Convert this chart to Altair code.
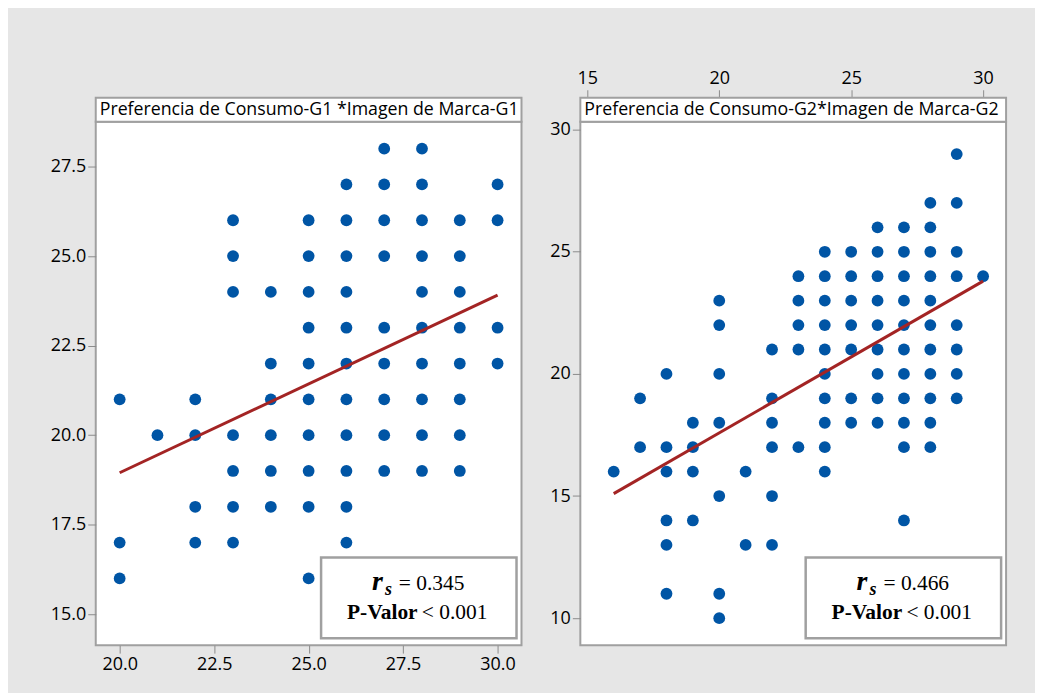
import altair as alt
import pandas as pd

# ---------------- data ----------------
g1_x = ([20] * 3 + [21] + [22] * 4 + [23] * 7 + [24] * 6 + [25] * 10 + [26] * 11
        + [27] * 9 + [28] * 10 + [29] * 8 + [30] * 4)
g1_y = ([21, 17, 16]
        + [20]
        + [21, 20, 18, 17]
        + [26, 25, 24, 20, 19, 18, 17]
        + [24, 22, 21, 20, 19, 18]
        + [26, 25, 24, 23, 22, 21, 20, 19, 18, 16]
        + [27, 26, 25, 24, 23, 22, 21, 20, 19, 18, 17]
        + [28, 27, 26, 25, 23, 22, 21, 20, 19]
        + [28, 27, 26, 25, 24, 23, 22, 21, 20, 19]
        + [26, 25, 24, 23, 22, 21, 20, 19]
        + [27, 26, 23, 22])

g2_x = ([16] + [17] * 2 + [18] * 6 + [19] * 4 + [20] * 7 + [21] * 2 + [22] * 6
        + [23] * 5 + [24] * 10 + [25] * 7 + [26] * 9 + [27] * 11 + [28] * 11
        + [29] * 8 + [30])
g2_y = ([16]
        + [19, 17]
        + [20, 17, 16, 14, 13, 11]
        + [18, 17, 16, 14]
        + [23, 22, 20, 18, 15, 11, 10]
        + [16, 13]
        + [21, 19, 18, 17, 15, 13]
        + [24, 23, 22, 21, 17]
        + [25, 24, 23, 22, 21, 20, 19, 18, 17, 16]
        + [25, 24, 23, 22, 21, 19, 18]
        + [26, 25, 24, 23, 22, 21, 20, 19, 18]
        + [26, 25, 24, 23, 22, 21, 20, 19, 18, 17, 14]
        + [27, 26, 25, 24, 23, 22, 21, 20, 19, 18, 17]
        + [29, 27, 25, 24, 22, 21, 20, 19]
        + [24])

# fitted lines (end points)
g1_fit_x = [20, 30]
g1_fit_y = [18.95, 23.91]
g2_fit_x = [16, 30]
g2_fit_y = [15.1, 23.8]

titles = ["Preferencia de Consumo-G1 *Imagen de Marca-G1",
          "Preferencia de Consumo-G2*Imagen de Marca-G2"]
rs_values = ["= 0.345", "= 0.466"]
p_values = ["< 0.001", "< 0.001"]

g1_xticks = [20.0, 22.5, 25.0, 27.5, 30.0]
g1_yticks = [15.0, 17.5, 20.0, 22.5, 25.0, 27.5]
g2_xticks = [15, 20, 25, 30]
g2_yticks = [10, 15, 20, 25, 30]

# ---------------- styling ----------------
BLUE = "#0055a5"
RED = "#a32424"
FRAME = "#a0a0a0"
BG = "#e6e6e6"
SANS = "Open Sans"
SERIF = "Liberation Serif"
W, H, STRIP = 427, 525, 24

one = pd.DataFrame({"k": [0]})


def panel(xs, ys, fx, fy, xdom, ydom, xticks, yticks, fmt, title, rs, pv, top):
    pts = pd.DataFrame({"x": xs, "y": ys})
    fit = pd.DataFrame({"x": fx, "y": fy})
    xsc = alt.Scale(domain=xdom, nice=False, zero=False)
    ysc = alt.Scale(domain=ydom, nice=False, zero=False)
    xaxis = alt.Axis(values=xticks, format=fmt, title=None,
                     orient="top" if top else "bottom",
                     offset=STRIP if top else 0)
    yaxis = alt.Axis(values=yticks, format=fmt, title=None)

    dots = alt.Chart(pts).mark_circle(size=140, color=BLUE, opacity=1).encode(
        x=alt.X("x:Q", scale=xsc, axis=xaxis),
        y=alt.Y("y:Q", scale=ysc, axis=yaxis),
    )
    line = alt.Chart(fit).mark_line(color=RED, strokeWidth=3).encode(
        x="x:Q", y="y:Q")

    strip = alt.Chart(one).mark_rect(fill="white", stroke=FRAME, strokeWidth=2).encode(
        x=alt.value(0), x2=alt.value(W), y=alt.value(-STRIP), y2=alt.value(0))
    strip_t = alt.Chart(one).mark_text(
        text=title, align="left", baseline="middle", font=SANS, fontSize=17.8,
        color="black").encode(x=alt.value(4), y=alt.value(-STRIP / 2))

    box = alt.Chart(one).mark_rect(fill="white", stroke=FRAME, strokeWidth=2.5).encode(
        x=alt.value(226), x2=alt.value(422), y=alt.value(437), y2=alt.value(518))
    t_r = alt.Chart(one).mark_text(
        text="r", align="left", baseline="alphabetic", font=SERIF, fontSize=28,
        fontWeight="bold", fontStyle="italic", color="black").encode(
        x=alt.value(277), y=alt.value(470))
    t_s = alt.Chart(one).mark_text(
        text="s", align="left", baseline="alphabetic", font=SERIF, fontSize=18,
        fontWeight="bold", fontStyle="italic", color="black").encode(
        x=alt.value(290), y=alt.value(475))
    t_eq = alt.Chart(one).mark_text(
        text=rs, align="left", baseline="alphabetic", font=SERIF, fontSize=21.5,
        color="black").encode(x=alt.value(304), y=alt.value(470))
    t_p = alt.Chart(one).mark_text(
        text="P-Valor", align="left", baseline="alphabetic", font=SERIF, fontSize=21.5,
        fontWeight="bold", color="black").encode(x=alt.value(252), y=alt.value(499))
    t_lt = alt.Chart(one).mark_text(
        text=pv, align="left", baseline="alphabetic", font=SERIF, fontSize=21.5,
        color="black").encode(x=alt.value(327), y=alt.value(499))

    return alt.layer(dots, line, box, t_r, t_s, t_eq, t_p, t_lt, strip, strip_t).properties(
        width=W, height=H)


left = panel(g1_x, g1_y, g1_fit_x, g1_fit_y, [19.367, 30.633], [14.137, 28.753],
             g1_xticks, g1_yticks, ".1f", titles[0], rs_values[0], p_values[0], False)
right = panel(g2_x, g2_y, g2_fit_x, g2_fit_y, [14.735, 30.871], [8.896, 30.327],
              g2_xticks, g2_yticks, "d", titles[1], rs_values[1], p_values[1], True)

chart = alt.hconcat(left, right, spacing=59, bounds="flush").properties(
    background=BG,
    padding={"left": 41, "top": 60, "right": 27, "bottom": 18},
).configure_view(
    stroke=FRAME, strokeWidth=2, fill="white"
).configure_axis(
    grid=False, domain=False, tickColor="#8c8c8c", tickSize=8, tickWidth=1,
    labelFont=SANS, labelFontSize=18, labelColor="black", labelPadding=2,
)

chart.save("out.html", embed_options={"renderer": "svg", "actions": False})
